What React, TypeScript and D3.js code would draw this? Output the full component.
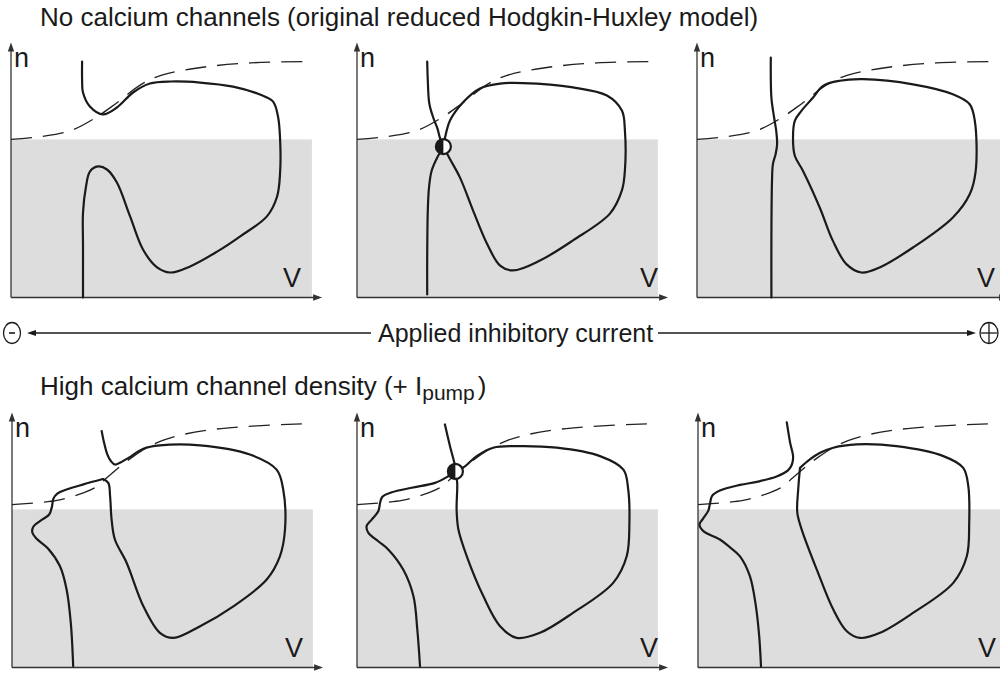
import React from 'react';
import * as d3 from 'd3';

type P = [number, number];

// ---- data (V in 0..100, n in 0..100, schematic units) ----
const nullclineTop: P[] = [[0, 62.0], [10, 63.1], [20, 65.5], [28.3, 70.6], [35, 76.1], [43.3, 83.5], [50, 87.1], [63.3, 90.2], [80, 92.0], [100, 92.5]];
const nullclineBottom: P[] = [[0, 63.9], [15, 65.5], [24, 68.6], [28.3, 71.0], [31.7, 74.5], [40, 82.4], [50, 89.0], [66.7, 93.3], [100, 95.7]];

const p1Trajectory: P[] = [[23.7, 92.5], [23.7, 85.5], [24.0, 80.4], [26.3, 74.9], [30.7, 71.8], [35.3, 74.5], [40.7, 80.4], [46.3, 83.9], [53.3, 84.7], [63.0, 84.3], [74.0, 82.7], [83.0, 79.6], [87.3, 76.9], [89.0, 71.0], [89.7, 62.0], [89.7, 49.0], [88.7, 39.6], [85.3, 31.8], [76.3, 23.9], [68.7, 18.0], [59.7, 12.2], [53.0, 9.8], [48.7, 11.8], [44.0, 18.8], [39.7, 31.8], [35.3, 45.1], [32.0, 50.2], [29.0, 51.4], [26.3, 49.4], [25.0, 43.5], [24.0, 33.3], [24.0, 20.4], [24.0, 0]];

const p2Vertical: P[] = [[23.4, 92.5], [23.6, 85.1], [24.1, 76.1], [25.4, 70.6], [26.8, 66.3], [27.7, 62.4], [28.8, 59.2], [27.1, 55.7], [24.9, 49.8], [24.0, 43.1], [23.6, 34.1], [23.4, 15.7], [23.4, 1.2]];
const p2Loop: P[] = [[28.8, 59.2], [29.3, 62.4], [31.0, 69.4], [35.3, 76.5], [41.0, 82.0], [47.7, 83.9], [55.3, 84.1], [72.0, 82.4], [83.3, 79.2], [88.3, 73.3], [89.3, 65.5], [89.3, 49.8], [88.3, 42.0], [84.3, 32.9], [72.0, 22.4], [61.0, 14.5], [52.0, 10.6], [47.7, 12.5], [43.3, 21.2], [38.7, 34.1], [34.3, 47.1], [30.7, 54.9], [28.8, 59.2]];
const p2Fixed: P[] = [[28.8, 59.2]];

const p3Vertical: P[] = [[24.6, 94.1], [24.8, 78.4], [25.7, 70.6], [26.4, 65.4], [26.7, 60.1], [26.2, 56.2], [25.3, 52.3], [25.0, 45.8], [24.8, 23.5], [24.8, 0]];
const p3Loop: P[] = [[42.0, 83.0], [47.6, 85.0], [55.3, 85.6], [72.0, 83.6], [85.3, 79.7], [90.9, 75.8], [92.6, 69.3], [92.9, 49.7], [90.9, 40.5], [85.3, 31.4], [72.0, 19.6], [60.9, 11.8], [54.8, 9.8], [49.8, 13.1], [45.3, 22.2], [40.9, 35.3], [35.3, 49.7], [32.6, 55.6], [32.0, 62.7], [32.6, 69.3], [34.8, 73.2], [38.7, 78.4]];

const p4Loop: P[] = [[29.9, 92.7], [30.7, 88.1], [31.8, 83.5], [33.0, 80.9], [34.3, 79.6], [36.0, 80.3], [38.8, 82.2], [43.8, 85.8], [49.3, 87.1], [62.7, 87.1], [79.3, 83.5], [88.2, 77.6], [90.4, 69.8], [91.0, 54.1], [89.3, 43.6], [84.9, 34.5], [73.8, 24.0], [62.7, 16.2], [53.8, 11.6], [49.3, 13.6], [43.8, 24.0], [38.2, 41.1], [34.3, 50.2], [33.2, 58.0], [32.7, 67.1], [32.1, 72.4], [30.3, 73.9]];
const p4Wiggle: P[] = [[30.3, 73.9], [23.8, 71.8], [18.2, 69.8], [15.1, 68.2], [13.8, 66.2], [13.3, 63.0], [12.4, 60.0], [9.3, 57.4], [7.1, 55.2], [6.8, 52.8], [8.2, 50.5], [12.0, 46.7], [16.0, 39.7], [18.2, 30.6], [19.6, 17.5], [20.4, 0.5]];

const p5Loop: P[] = [[29.3, 95.3], [31.0, 86.8], [32.7, 78.9], [32.8, 76.9], [33.4, 72.4], [33.2, 62.0], [33.8, 54.1], [36.6, 43.6], [42.1, 28.0], [47.7, 16.2], [53.2, 11.6], [61.0, 13.6], [72.1, 21.5], [85.4, 33.2], [89.9, 43.6], [90.8, 56.7], [90.4, 69.8], [88.8, 77.6], [81.0, 82.9], [66.6, 86.2], [53.2, 86.8], [45.4, 86.2], [39.9, 82.9], [36.0, 78.9], [32.8, 76.9]];
const p5Wiggle: P[] = [[32.8, 76.9], [30.4, 75.0], [26.0, 72.4], [18.2, 70.5], [11.6, 68.7], [8.4, 66.9], [7.7, 64.6], [7.1, 61.3], [4.9, 58.0], [3.2, 55.4], [3.8, 52.8], [7.1, 49.5], [10.4, 46.3], [15.4, 38.4], [18.8, 28.0], [20.1, 14.9], [21.0, 0.5]];
const p5Fixed: P[] = [[32.8, 76.9]];

const p6Wiggle: P[] = [[29.6, 96.1], [30.7, 88.2], [31.7, 82.7], [31.3, 79.6], [30.0, 77.3], [26.2, 74.9], [20.0, 72.9], [14.0, 71.6], [7.3, 69.4], [4.7, 67.3], [4.0, 64.3], [3.4, 61.4], [1.7, 58.4], [0.5, 56.1], [1.8, 53.5], [7.3, 50.2], [10.7, 47.1], [14.0, 43.6], [17.3, 35.8], [19.3, 24.0], [20.4, 12.3], [21.0, 0.4]];
const p6Loop: P[] = [[34.0, 78.3], [37.3, 81.6], [40.7, 84.2], [45.1, 86.2], [52.9, 87.5], [66.2, 86.8], [81.8, 82.9], [88.4, 78.3], [90.1, 71.1], [90.4, 56.7], [89.6, 43.6], [85.1, 33.2], [71.8, 21.5], [60.7, 13.6], [54.0, 11.6], [49.6, 14.2], [45.1, 22.7], [39.6, 38.4], [34.6, 54.0], [33.1, 60.7], [33.4, 69.8], [34.0, 78.3]];

const shadeLevel = 62; // n value bounding the shaded region

const titleTop = 'No calcium channels (original reduced Hodgkin-Huxley model)';
const titleBottomMain = 'High calcium channel density (+ I';
const titleBottomSub = 'pump';
const axisLabel = 'Applied inhibitory current';

// ---- layout ----
type Curve = { pts: P[]; closed?: boolean };
type Panel = { x0: number; y0: number; dashed: P[]; curves: Curve[]; fixed: P[]; vdx: number; grayMax: number };

const panels: Panel[] = [
  { x0: 11, y0: 297.5, dashed: nullclineTop, curves: [{ pts: p1Trajectory }], fixed: [], vdx: 272, grayMax: 100.3 },
  { x0: 357, y0: 297.5, dashed: nullclineTop, curves: [{ pts: p2Vertical }, { pts: p2Loop }], fixed: p2Fixed, vdx: 283, grayMax: 100.3 },
  { x0: 697, y0: 297.5, dashed: nullclineTop, curves: [{ pts: p3Vertical }, { pts: p3Loop, closed: true }], fixed: [], vdx: 280, grayMax: 103 },
  { x0: 12, y0: 667.5, dashed: nullclineBottom, curves: [{ pts: p4Loop }, { pts: p4Wiggle }], fixed: [], vdx: 273, grayMax: 100.3 },
  { x0: 357, y0: 667.5, dashed: nullclineBottom, curves: [{ pts: p5Loop }, { pts: p5Wiggle }], fixed: p5Fixed, vdx: 283, grayMax: 100.3 },
  { x0: 698, y0: 667.5, dashed: nullclineBottom, curves: [{ pts: p6Wiggle }, { pts: p6Loop }], fixed: [], vdx: 280, grayMax: 103 },
];

const FONT = "'Liberation Sans', Arial, Helvetica, sans-serif";
const INK = '#1a1a1a';

function PanelView({ p }: { p: Panel }) {
  const x = d3.scaleLinear().domain([0, 100]).range([p.x0, p.x0 + 300]);
  const y = d3.scaleLinear().domain([0, 100]).range([p.y0, p.y0 - 255]);
  const open = d3.line<P>().x(d => x(d[0])).y(d => y(d[1])).curve(d3.curveCatmullRom.alpha(0.5));
  const closed = d3.line<P>().x(d => x(d[0])).y(d => y(d[1])).curve(d3.curveCatmullRomClosed.alpha(0.5));
  const ax = x(0), ay = y(0);
  const yTip = y(100), xTip = x(103.7);
  return (
    <g>
      <rect x={x(0)} y={y(shadeLevel)} width={x(p.grayMax) - x(0)} height={y(0) - y(shadeLevel)} fill="#dddddd" />
      <line x1={ax} y1={ay} x2={ax} y2={yTip + 6} stroke="#333" strokeWidth={1.3} />
      <path d={`M${ax},${yTip} L${ax - 3.2},${yTip + 9} L${ax + 3.2},${yTip + 9} Z`} fill="#333" />
      <line x1={ax} y1={ay} x2={xTip - 6} y2={ay} stroke="#333" strokeWidth={1.3} />
      <path d={`M${xTip},${ay} L${xTip - 9},${ay - 3.2} L${xTip - 9},${ay + 3.2} Z`} fill="#333" />
      <path d={open(p.dashed) || ''} fill="none" stroke="#222" strokeWidth={1.3} strokeDasharray="21 11" />
      {p.curves.map((c, i) => (
        <path key={i} d={(c.closed ? closed(c.pts) : open(c.pts)) || ''} fill="none" stroke={INK} strokeWidth={2.2} strokeLinejoin="round" strokeLinecap="round" />
      ))}
      {p.fixed.map((f, i) => {
        const cx = x(f[0]), cy = y(f[1]), r = 7.5;
        return (
          <g key={i}>
            <circle cx={cx} cy={cy} r={r} fill="#fff" stroke={INK} strokeWidth={2.2} />
            <path d={`M${cx},${cy - r} A${r},${r} 0 0 0 ${cx},${cy + r} Z`} fill={INK} />
          </g>
        );
      })}
      <text x={ax + 3} y={y(100) + 24} fontFamily={FONT} fontSize={27} fill={INK}>n</text>
      <text x={ax + p.vdx} y={ay - 11} fontFamily={FONT} fontSize={27} fill={INK}>V</text>
    </g>
  );
}

export default function App() {
  const midY = 333;
  const lx1 = 27, lx2 = 371, rx1 = 658, rx2 = 976;
  return (
    <svg width={1000} height={677} style={{ display: 'block', position: 'absolute', left: 0, top: 0, background: '#fff' }}>
      <rect x={0} y={0} width={1000} height={677} fill="#fff" />
      <text x={40} y={26} fontFamily={FONT} fontSize={26} fill={INK}>{titleTop}</text>
      {panels.map((p, i) => <PanelView key={i} p={p} />)}
      {/* current axis */}
      <ellipse cx={12} cy={midY} rx={8.5} ry={10.5} fill="none" stroke={INK} strokeWidth={1.3} />
      <line x1={9} y1={midY} x2={15} y2={midY} stroke={INK} strokeWidth={1.6} />
      <line x1={lx1 + 6} y1={midY} x2={lx2} y2={midY} stroke={INK} strokeWidth={1.3} />
      <path d={`M${lx1},${midY} L${lx1 + 9},${midY - 3} L${lx1 + 9},${midY + 3} Z`} fill={INK} />
      <text x={378} y={midY + 9} fontFamily={FONT} fontSize={25} fill={INK}>{axisLabel}</text>
      <line x1={rx1} y1={midY} x2={rx2 - 6} y2={midY} stroke={INK} strokeWidth={1.3} />
      <path d={`M${rx2},${midY} L${rx2 - 9},${midY - 3} L${rx2 - 9},${midY + 3} Z`} fill={INK} />
      <ellipse cx={989} cy={midY} rx={9} ry={10.5} fill="none" stroke={INK} strokeWidth={1.3} />
      <line x1={981} y1={midY} x2={997} y2={midY} stroke={INK} strokeWidth={1.3} />
      <line x1={989} y1={midY - 10} x2={989} y2={midY + 10} stroke={INK} strokeWidth={1.3} />
      <text x={40} y={395} fontFamily={FONT} fontSize={26} fill={INK}>
        {titleBottomMain}
        <tspan fontSize={21} dy={5}>{titleBottomSub}</tspan>
        <tspan dx={3} dy={-5}>)</tspan>
      </text>
    </svg>
  );
}
